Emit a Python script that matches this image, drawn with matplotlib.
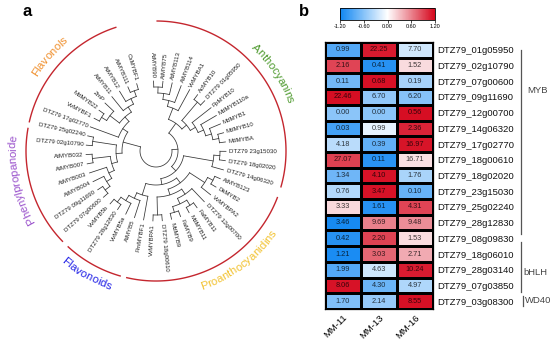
import numpy as np
import matplotlib
matplotlib.use("Agg")
import matplotlib.pyplot as plt
from matplotlib.colors import LinearSegmentedColormap, Normalize
from matplotlib.cm import ScalarMappable

plt.rcParams['font.family'] = ['Liberation Sans', 'DejaVu Sans']

# ---- heatmap data (panel b)
genes = ["DTZ79_01g05950", "DTZ79_02g10790", "DTZ79_07g00600", "DTZ79_09g11690",
         "DTZ79_12g00700", "DTZ79_14g06320", "DTZ79_17g02770", "DTZ79_18g00610",
         "DTZ79_18g02020", "DTZ79_23g15030", "DTZ79_25g02240", "DTZ79_28g12830",
         "DTZ79_08g09830", "DTZ79_18g06010", "DTZ79_28g03140", "DTZ79_07g03850",
         "DTZ79_03g08300"]
mm11 = [0.99, 2.16, 0.11, 22.46, 0.00, 0.03, 4.18, 27.07, 1.34, 0.76, 3.33, 3.46,
        0.42, 1.21, 1.99, 8.06, 1.70]
mm13 = [22.25, 0.41, 0.68, 6.70, 0.00, 0.99, 0.39, 0.11, 4.10, 3.47, 1.61, 9.69,
        2.20, 3.03, 4.63, 4.30, 2.14]
mm16 = [7.70, 1.52, 0.19, 6.20, 0.56, 2.36, 16.97, 16.71, 1.76, 0.10, 4.31, 9.48,
        1.53, 2.71, 10.24, 4.97, 8.55]
samples = ["MM-11", "MM-13", "MM-16"]
families = ["MYB", "bHLH", "WD40"]
family_rows = [12, 4, 1]

# ---- tree data (panel a), leaves in drawing order
flavonols = (((("CsMYBF1", "AtMYB111"), "AtMYB12"), "AtMYB11"),
             ("ZmP", ("MdMYB22", "VvMYBF1"))), "DTZ79 17g02770"
phenyl = (("DTZ79 25g02240", "DTZ79 02g10790"),
          (("AtMYB032", "AtMYB007"),
           ("AtMYB003", ("AtMYB004", ("DTZ79 09g11690", "DTZ79 07g00600")))))
flavonoids = (((("VvMYB5b", "DTZ79 28g12830"), "VvMYB5a"), "AtMYB5"), "PmMYBF1")
proantho = ((("VvMYBPA1", "DTZ79 18g00610"),
             ((("MdMYB9", "FaMYB9"), ("MdMYB11", "FaMYB11")), "DTZ79 12g00700")),
            ("VvMYBPA2", ("DkMYB2", "AtMYB123")))
dtz_group = ("DTZ79 14g06320", ("DTZ79 18g02020", "DTZ79 23g15030"))
antho = (((((("MdMYBA", "MdMYB10"), "MdMYB1"), "MdMYB110a"), "PpMYB10"),
          ("DTZ79 01g05950", "AcMYB10")),
         ("VvMYBA1", ("AtMYB114", ("AtMYB113", ("AtMYB75", "AtMYB90")))))
tree = ((flavonols, phenyl), (((flavonoids, proantho), dtz_group), antho))

clade_names = ["Flavonols", "Phenylpropanoide", "Flavonoids", "Proanthocyanidins", "Anthocyanins"]
clade_colors = ["#F0902E", "#9A52CC", "#2222E6", "#F2C230", "#4E9A2E"]
# arc spans / text angle (degrees) for each clade
clade_arcs = [(108, 167), (170, 224), (227.5, 254), (257, 339), (344, 449.5)]
clade_text_ang = [138.5, 192, 240.5, 307, 33.5]
clade_clockwise = [True, True, False, False, True]

fig = plt.figure(figsize=(5.5, 3.51), dpi=100)

# ================= panel a: circular tree =================
ax = fig.add_axes([0, 0, 300 / 550, 1])
ax.set_xlim(0, 300)
ax.set_ylim(351, 0)
ax.axis('off')

cx, cy = 156, 151
a0, da = 106, 346 / 45
r_tip, r_root = 70, 16


def pt(r, a):
    t = np.radians(a)
    return cx + r * np.cos(t), cy - r * np.sin(t)


leaves = []


def layout(node):
    if isinstance(node, str):
        leaves.append(node)
        return {'name': node, 'ang': a0 + (len(leaves) - 1) * da, 'h': 0, 'kids': []}
    kids = [layout(c) for c in node]
    return {'name': None, 'ang': (kids[0]['ang'] + kids[-1]['ang']) / 2,
            'h': 1 + max(k['h'] for k in kids), 'kids': kids}


root = layout(tree)
step = (r_tip - r_root) / root['h']


def rad(n):
    return r_tip if n['h'] == 0 else r_tip - n['h'] * step


lc = '#333333'


def draw(n):
    if not n['kids']:
        return
    r = rad(n)
    aa = np.linspace(n['kids'][0]['ang'], n['kids'][-1]['ang'], 60)
    x, y = pt(r, aa)
    ax.plot(x, y, color=lc, lw=0.55)
    for k in n['kids']:
        x0, y0 = pt(r, k['ang'])
        x1, y1 = pt(rad(k), k['ang'])
        ax.plot([x0, x1], [y0, y1], color=lc, lw=0.55)
        draw(k)


draw(root)

for i, name in enumerate(leaves):
    a = a0 + i * da
    am = a % 360
    x, y = pt(73, a)
    if 90 < am < 270:
        ax.text(x, y, name, rotation=am - 180, ha='right', va='center',
                rotation_mode='anchor', fontsize=4.4, color='#222222')
    else:
        ax.text(x, y, name, rotation=am, ha='left', va='center',
                rotation_mode='anchor', fontsize=4.4, color='#222222')

# red clade arcs
for (s, e) in clade_arcs:
    aa = np.linspace(s, e, 120)
    x, y = pt(130, aa)
    ax.plot(x, y, color='#C4262E', lw=1.0)

# curved clade names
renderer = fig.canvas.get_renderer()


def text_width(s, fs):
    if not s:
        return 0.0
    t = ax.text(0, 0, s, fontsize=fs)
    w = t.get_window_extent(renderer).width
    t.remove()
    return w


def curved_text(s, ang, r, color, fs, clockwise):
    total = text_width(s, fs)
    for i, ch in enumerate(s):
        c = (text_width(s[:i], fs) + text_width(s[:i + 1], fs)) / 2 - total / 2
        d = np.degrees(c / r)
        if clockwise:
            a = ang - d
            rot = a - 90
        else:
            a = ang + d
            rot = a + 90
        x, y = pt(r, a)
        ax.text(x, y, ch, rotation=rot, ha='center', va='center',
                rotation_mode='anchor', fontsize=fs, color=color)


for name, col, ang, cw in zip(clade_names, clade_colors, clade_text_ang, clade_clockwise):
    curved_text(name, ang, 143, col, 8.2, cw)

fig.text(27 / 550, 1 - 12 / 351, 'a', fontsize=12, fontweight='bold', va='center', ha='center')
fig.text(304 / 550, 1 - 12 / 351, 'b', fontsize=12, fontweight='bold', va='center', ha='center')

# ================= panel b: heatmap =================
vals = np.column_stack([mm11, mm13, mm16])
z = (vals - vals.mean(axis=1, keepdims=True)) / vals.std(axis=1, ddof=1, keepdims=True)
z = np.clip(z, -1.2, 1.2)
cmap = LinearSegmentedColormap.from_list('bwr2', ['#0F86F2', '#FFFFFF', '#D5061C'])

hx = fig.add_axes([325 / 550, (351 - 309) / 351, 108 / 550, 267 / 351])
hx.pcolormesh(np.arange(4), np.arange(len(genes) + 1), z, cmap=cmap, vmin=-1.2, vmax=1.2,
              edgecolors='black', linewidth=0.8)
hx.set_xlim(0, 3)
hx.set_ylim(len(genes), 0)
for i in range(len(genes)):
    for j in range(3):
        hx.text(j + 0.5, i + 0.5, f"{vals[i, j]:.2f}", ha='center', va='center',
                fontsize=5.3, color='black', alpha=0.75)
hx.yaxis.tick_right()
hx.set_yticks(np.arange(len(genes)) + 0.5)
hx.set_yticklabels(genes, fontsize=6.8, color='#111111')
hx.set_xticks(np.arange(3) + 0.5)
hx.set_xticklabels(samples, fontsize=6.8, rotation=45, ha='right', rotation_mode='anchor')
hx.tick_params(length=0, pad=3)
for sp in hx.spines.values():
    sp.set_linewidth(0.9)

# family brackets
y0 = 0
bracket_y = [(0.5, 12.2), (12.75, 15.9), (16.2, 16.8)]
label_pos = [(5.62, 3.06), (5.5, 14.65), (5.55, 16.45)]
for fam, (ya, yb), (lx, ly) in zip(families, bracket_y, label_pos):
    xl = 5.45 if fam != "WD40" else 5.5
    hx.plot([xl, xl], [ya, yb], color='#555555', lw=0.9, clip_on=False)
    hx.text(lx, ly, fam, fontsize=6.8, color='#444444', ha='left', va='center', clip_on=False)

# colorbar
cax = fig.add_axes([340 / 550, (351 - 20) / 351, 95 / 550, 12 / 351])
cb = fig.colorbar(ScalarMappable(norm=Normalize(-1.2, 1.2), cmap=cmap), cax=cax,
                  orientation='horizontal', ticks=[-1.2, -0.6, 0, 0.6, 1.2])
cb.ax.set_xticklabels(["-1.20", "-0.60", "0.00", "0.60", "1.20"])
cb.ax.tick_params(labelsize=4, length=2, width=0.5, pad=1)
cb.outline.set_linewidth(0.6)

fig.savefig("out.png", dpi=100)
